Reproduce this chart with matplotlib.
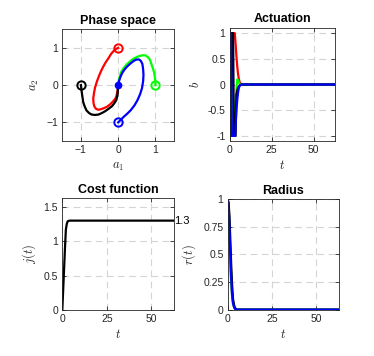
import numpy as np
import matplotlib
matplotlib.use("Agg")
from matplotlib import pyplot as plt

plt.rcParams['font.family'] = 'Liberation Sans'
plt.rcParams['mathtext.fontset'] = 'cm'

# phase space trajectories (a1, a2)
red_a1 = [0, -0.06, -0.12, -0.19, -0.25, -0.35, -0.44, -0.51, -0.57, -0.62, -0.65, -0.67, -0.66, -0.64, -0.60, -0.54, -0.48, -0.39, -0.30, -0.22, -0.15, -0.09, -0.05, -0.02, 0]
red_a2 = [1.0, 0.97, 0.92, 0.84, 0.74, 0.59, 0.42, 0.26, 0.10, -0.06, -0.22, -0.36, -0.49, -0.57, -0.63, -0.66, -0.65, -0.62, -0.58, -0.52, -0.45, -0.38, -0.31, -0.17, 0]
green_a1 = [1.0, 1.0, 0.99, 0.97, 0.93, 0.85, 0.79, 0.73, 0.65, 0.56, 0.47, 0.38, 0.30, 0.22, 0.15, 0.09, 0.05, 0.02, 0]
green_a2 = [0, 0.09, 0.18, 0.32, 0.46, 0.69, 0.76, 0.80, 0.80, 0.78, 0.74, 0.69, 0.62, 0.55, 0.46, 0.37, 0.26, 0.15, 0]
blue_a1 = [0, 0.07, 0.15, 0.25, 0.34, 0.44, 0.52, 0.59, 0.64, 0.67, 0.68, 0.67, 0.65, 0.61, 0.56, 0.50, 0.43, 0.34, 0.25, 0.17, 0.11, 0.06, 0.02, 0]
blue_a2 = [-1.0, -0.93, -0.85, -0.76, -0.67, -0.54, -0.40, -0.24, -0.08, 0.10, 0.28, 0.43, 0.57, 0.65, 0.69, 0.69, 0.66, 0.59, 0.51, 0.42, 0.33, 0.22, 0.10, 0]
black_a1 = [-1.0, -0.99, -0.98, -0.96, -0.94, -0.90, -0.85, -0.78, -0.71, -0.62, -0.53, -0.44, -0.35, -0.25, -0.16, -0.10, -0.05, -0.02, -0.01, 0]
black_a2 = [0, -0.08, -0.17, -0.31, -0.45, -0.57, -0.68, -0.75, -0.79, -0.80, -0.79, -0.75, -0.70, -0.63, -0.56, -0.48, -0.40, -0.28, -0.17, 0]

# actuation b(t)
red_tb = [0, 1.0, 1.5, 3.0, 3.5, 4.0, 4.5, 5.0, 5.5, 6.0, 7.0, 62.83]
red_b = [-1, -1, 1, 1, 0.8, 0.55, 0.35, 0.2, 0.1, 0.04, 0, 0]
green_tb = [0, 1.2, 1.6, 2.5, 3.0, 3.5, 4.0, 4.5, 5.0, 6.0, 62.83]
green_b = [1, 1, -1, -1, -0.6, -0.3, -0.1, 0.1, 0.08, 0, 0]
black_tb = [0, 0.6, 1.0, 2.0, 2.5, 3.5, 4.0, 4.5, 5.0, 6.0, 7.0, 62.83]
black_b = [-1, -1, 1, 1, -1, -1, -0.2, -0.12, -0.06, -0.02, 0, 0]
blue_tb = [0, 0.8, 1.3, 3.2, 3.6, 4.0, 4.5, 5.0, 5.5, 6.0, 7.0, 62.83]
blue_b = [1, 1, -1, -1, -0.75, -0.5, -0.3, -0.15, -0.06, -0.02, 0, 0]

# cost function j(t)
tj = [0, 0.5, 1.0, 1.5, 2.0, 2.5, 3.0, 4.0, 5.0, 62.83]
j = [0, 0.3, 0.6, 0.9, 1.17, 1.25, 1.29, 1.3, 1.3, 1.3]
j_final = 1.3

# radius r(t)
tr = [0, 0.5, 1.0, 1.5, 2.0, 2.5, 3.0, 3.5, 4.0, 5.0, 62.83]
red_r = [1, 0.93, 0.62, 0.4, 0.22, 0.12, 0.06, 0.03, 0.01, 0, 0]
green_r = [1, 0.92, 0.75, 0.5, 0.3, 0.15, 0.07, 0.03, 0.01, 0, 0]
black_r = [1, 0.97, 0.85, 0.62, 0.4, 0.22, 0.1, 0.05, 0.02, 0, 0]
blue_r = [1, 0.95, 0.75, 0.5, 0.28, 0.14, 0.06, 0.03, 0.01, 0, 0]

tmax = 62.83
lw = 1.6


def style(ax):
    ax.grid(True, ls=(0, (6, 4)), color='#d4d4d4', lw=0.8)
    ax.set_axisbelow(True)
    ax.tick_params(direction='in', length=3, width=0.6, labelsize=7.5,
                   colors='#262626', top=True, right=True, pad=3)
    for s in ax.spines.values():
        s.set_color('#262626')
        s.set_linewidth(0.6)


fig = plt.figure(figsize=(3.74, 3.56), dpi=100)

ax1 = fig.add_axes([0.1666, 0.6039, 0.2987, 0.3138])
ax1.plot(red_a1, red_a2, color='r', lw=lw)
ax1.plot(green_a1, green_a2, color='#00ff00', lw=lw)
ax1.plot(black_a1, black_a2, color='k', lw=lw)
ax1.plot(blue_a1, blue_a2, color='b', lw=lw)
for x0, y0, c in [(red_a1[0], red_a2[0], 'r'), (green_a1[0], green_a2[0], '#00ff00'),
                  (black_a1[0], black_a2[0], 'k'), (blue_a1[0], blue_a2[0], 'b')]:
    ax1.plot(x0, y0, 'o', mfc='none', mec=c, ms=6, mew=1.4)
ax1.plot(0, 0, 'o', color='b', ms=4.5)
ax1.set_xlim(-1.5, 1.5)
ax1.set_ylim(-1.5, 1.5)
ax1.set_xticks([-1, 0, 1])
ax1.set_yticks([-1, 0, 1])
ax1.set_title('Phase space', fontsize=9, fontweight='bold', pad=4)
ax1.set_xlabel('$a_1$', fontsize=9, color='#262626', labelpad=4)
ax1.set_ylabel('$a_2$', fontsize=9, color='#262626')
style(ax1)

ax2 = fig.add_axes([0.6142, 0.6039, 0.2816, 0.3174])
ax2.plot(red_tb, red_b, color='r', lw=lw)
ax2.plot(green_tb, green_b, color='#00ff00', lw=lw)
ax2.plot(black_tb, black_b, color='k', lw=lw)
ax2.plot(blue_tb, blue_b, color='b', lw=lw)
ax2.set_xlim(0, tmax)
ax2.set_ylim(-1.1, 1.1)
ax2.set_xticks([0, 25, 50])
ax2.set_yticks([-1, -0.5, 0, 0.5, 1])
ax2.set_yticklabels(['-1', '-0.5', '0', '0.5', '1'])
ax2.set_title('Actuation', fontsize=9, fontweight='bold', pad=4)
ax2.set_xlabel('$t$', fontsize=9, color='#262626', labelpad=3)
ax2.set_ylabel('$b$', fontsize=9, color='#262626')
style(ax2)

ax3 = fig.add_axes([0.1666, 0.1292, 0.2987, 0.3138])
ax3.plot(tj, j, color='k', lw=lw)
ax3.text(tmax, j_final, str(j_final), fontsize=8, va='center', ha='left')
ax3.set_xlim(0, tmax)
ax3.set_ylim(0, 1.25 * j_final)
ax3.set_xticks([0, 25, 50])
ax3.set_yticks([0, 0.5, 1, 1.5])
ax3.set_yticklabels(['0', '0.5', '1', '1.5'])
ax3.set_title('Cost function', fontsize=9, fontweight='bold', pad=4)
ax3.set_xlabel('$t$', fontsize=9, color='#262626', labelpad=3)
ax3.set_ylabel('$j(t)$', fontsize=9, color='#262626')
style(ax3)

ax4 = fig.add_axes([0.6088, 0.1301, 0.2968, 0.3101])
ax4.plot(tr, red_r, color='#808080', lw=lw)
ax4.plot(tr, green_r, color='#00ff00', lw=lw)
ax4.plot(tr, black_r, color='k', lw=lw)
ax4.plot(tr, blue_r, color='b', lw=lw)
ax4.set_xlim(0, tmax)
ax4.set_ylim(0, 1)
ax4.set_xticks([0, 25, 50])
ax4.set_yticks([0, 0.25, 0.5, 0.75, 1])
ax4.set_yticklabels(['0', '0.25', '0.5', '0.75', '1'])
ax4.set_title('Radius', fontsize=9, fontweight='bold', pad=4)
ax4.set_xlabel('$t$', fontsize=9, color='#262626', labelpad=3)
ax4.set_ylabel('$r(t)$', fontsize=9, color='#262626')
style(ax4)

fig.savefig('out.png', dpi=100)
